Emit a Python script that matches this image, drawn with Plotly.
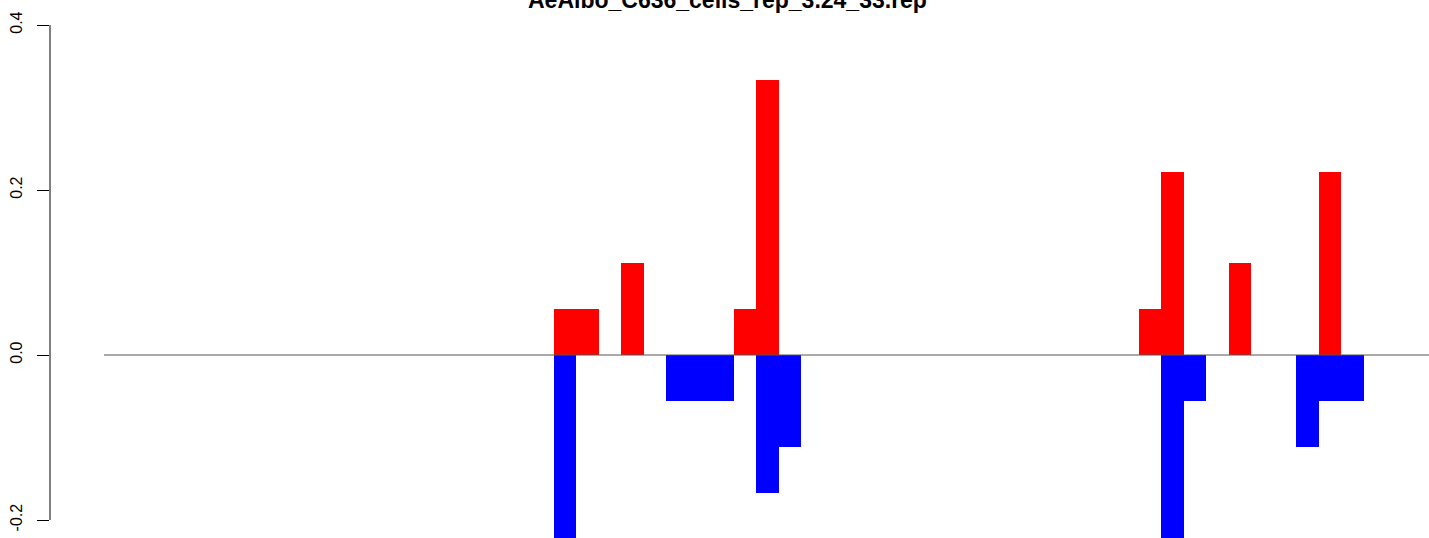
import plotly.graph_objects as go

# Bin layout and values
n_bins = 59
red_pos = [20, 21, 23, 28, 29, 46, 47, 50, 54]
red_vals = [0.0556, 0.0556, 0.1111, 0.0556, 0.3333, 0.0556, 0.2222, 0.1111, 0.2222]
blue_pos = [20, 25, 26, 27, 29, 30, 47, 48, 53, 54, 55]
blue_vals = [-0.2222, -0.0556, -0.0556, -0.0556, -0.1667, -0.1111, -0.2222, -0.0556, -0.1111, -0.0556, -0.0556]
y_ticks = [-0.2, 0.0, 0.2, 0.4]
y_ticktext = ['-0.2', '0.0', '0.2', '0.4']
title = 'AeAlbo_C636_cells_rep_3.24_33.rep'

fig = go.Figure()

# Positive (red) and negative (blue) bars drawn over one another, no gaps
fig.add_trace(go.Bar(x=red_pos, y=red_vals, width=1,
                     marker=dict(color='#FF0000', line=dict(width=0))))
fig.add_trace(go.Bar(x=blue_pos, y=blue_vals, width=1,
                     marker=dict(color='#0000FF', line=dict(width=0))))

# zero baseline across all bins
fig.add_trace(go.Scatter(x=[-0.5, n_bins - 0.5], y=[0, 0], mode='lines',
                         line=dict(color='#555555', width=1), hoverinfo='skip'))

# R-style axis line spanning only the tick range
fig.add_shape(type='line', xref='paper', yref='y', x0=0, x1=0,
              y0=y_ticks[0], y1=y_ticks[-1], line=dict(color='black', width=1))

fig.add_annotation(text='<b>' + title + '</b>', xref='paper', yref='paper',
                   x=0.491, y=1, yanchor='middle', yshift=25, showarrow=False,
                   font=dict(family='Liberation Sans', size=23, color='black'))

fig.update_layout(
    width=1429, height=538,
    margin=dict(l=50, r=0, t=25, b=0, autoexpand=False),
    paper_bgcolor='white', plot_bgcolor='white',
    barmode='overlay', bargap=0,
    showlegend=False,
    font=dict(family='Liberation Sans', size=15, color='black'),
    xaxis=dict(range=[-2.9, 58.39], visible=False, fixedrange=True, automargin=False),
    yaxis=dict(range=[-0.2218, 0.4], showgrid=False, zeroline=False, showline=False,
               automargin=False,
               tickvals=y_ticks, ticktext=y_ticktext, ticks='outside', ticklen=12,
               tickcolor='black', tickwidth=1, tickangle=-90, ticklabelstandoff=9,
               tickfont=dict(size=16)),
)

# drop the default page margin so the figure sits at the window corner
fig.write_html('out.html', config={'displayModeBar': False},
               post_script="document.body.style.margin='0';")
